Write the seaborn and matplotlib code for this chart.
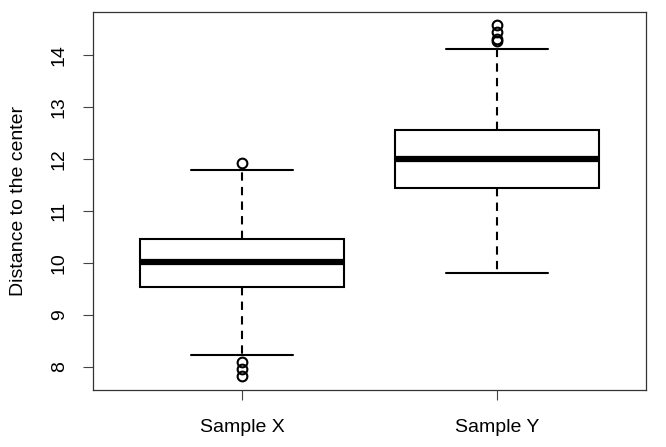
import numpy as np
import pandas as pd
import seaborn as sns
from matplotlib import pyplot as plt

# Box statistics
groups = ["Sample X", "Sample Y"]
q1 = [9.54, 11.44]
median = [10.02, 12.00]
q3 = [10.46, 12.56]
whisker_low = [8.23, 9.81]
whisker_high = [11.79, 14.12]
outliers_low = [[7.82, 7.97, 8.10], []]
outliers_high = [[11.92], [14.27, 14.30, 14.45, 14.57]]


def build_sample(i, block=10):
    """Rebuild a sample whose quartiles, whiskers and outliers match the chart."""
    values = (
        outliers_low[i]
        + [whisker_low[i]]
        + [q1[i]] * block
        + [median[i]] * block
        + [q3[i]] * block
        + [whisker_high[i]]
        + outliers_high[i]
    )
    return values


rows = []
for i, name in enumerate(groups):
    for v in build_sample(i):
        rows.append({"group": name, "distance": v})
df = pd.DataFrame(rows)

sns.set_style("white")
plt.rcParams["font.family"] = ["Liberation Sans", "DejaVu Sans"]
plt.rcParams["text.color"] = "black"
plt.rcParams["axes.labelcolor"] = "black"
plt.rcParams["xtick.color"] = "black"
plt.rcParams["ytick.color"] = "black"

fig = plt.figure(figsize=(6.66, 4.47), dpi=100)
ax = fig.add_axes([93 / 666, 57 / 447, 553 / 666, 378 / 447])

sns.boxplot(
    data=df, x="group", y="distance", ax=ax,
    width=0.8, whis=1.5, color="white", linecolor="black", linewidth=1.5,
    medianprops={"linewidth": 4.5, "color": "black", "solid_capstyle": "butt"},
    whiskerprops={"linestyle": (0, (4, 3)), "linewidth": 1.5},
    capprops={"linewidth": 1.5},
    flierprops={"marker": "o", "markersize": 7, "markerfacecolor": "none",
                "markeredgecolor": "black", "markeredgewidth": 1.5},
)

ax.set_xlim(-0.584, 1.584)
ax.set_ylim(7.558, 14.827)
ax.set_yticks(range(8, 15))
ax.set_xlabel("")
ax.set_ylabel("Distance to the center", fontsize=14, labelpad=17)

ax.tick_params(axis="both", direction="out", length=7, width=0.8,
               color="#444444", labelsize=14, labelcolor="black",
               left=True, bottom=True)
ax.tick_params(axis="x", pad=14)
ax.tick_params(axis="y", pad=11)
for lbl in ax.get_yticklabels():
    lbl.set_rotation(90)
    lbl.set_va("center")

for spine in ax.spines.values():
    spine.set_visible(True)
    spine.set_color("#333333")
    spine.set_linewidth(0.9)

plt.savefig("out.png", dpi=100)
plt.close()
